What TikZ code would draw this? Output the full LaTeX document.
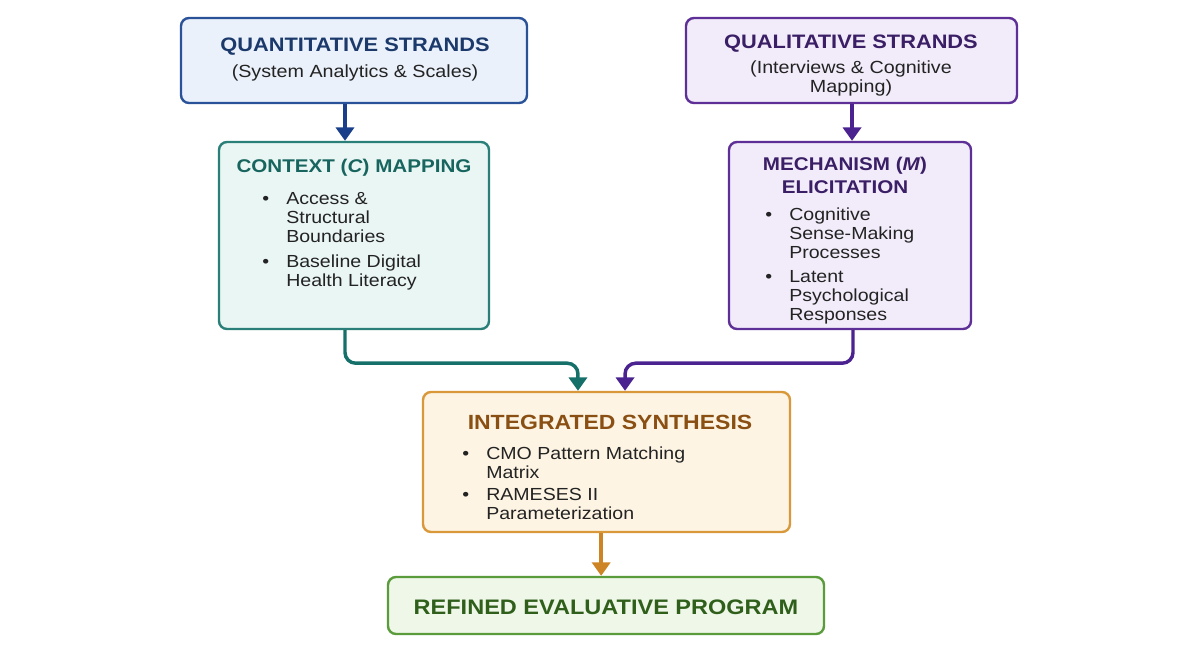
\documentclass[tikz,border=0pt]{standalone}
\usepackage{fontspec}
\setmainfont{Liberation Sans}[FakeStretch=1.12]
\usetikzlibrary{arrows.meta}

\definecolor{quantline}{HTML}{2A5298}
\definecolor{quantfill}{HTML}{EAF1FB}
\definecolor{quanttext}{HTML}{1B3A6B}
\definecolor{quantarrow}{HTML}{1A3F8A}
\definecolor{qualline}{HTML}{5E2F96}
\definecolor{qualfill}{HTML}{F2ECFA}
\definecolor{qualtext}{HTML}{3B1F66}
\definecolor{qualarrow}{HTML}{4B2390}
\definecolor{ctxline}{HTML}{2A7F78}
\definecolor{ctxfill}{HTML}{EAF6F4}
\definecolor{ctxtext}{HTML}{17655E}
\definecolor{ctxarrow}{HTML}{16706A}
\definecolor{synline}{HTML}{D9993A}
\definecolor{synfill}{HTML}{FDF4E4}
\definecolor{syntext}{HTML}{8A4F12}
\definecolor{synarrow}{HTML}{CC8425}
\definecolor{progline}{HTML}{5A9B3C}
\definecolor{progfill}{HTML}{EFF8E8}
\definecolor{progtext}{HTML}{2F5F1B}
\definecolor{bodytext}{HTML}{232323}

\newcommand{\bul}{\makebox[18pt][l]{\textbullet}}
\newcommand{\blist}[1]{\begin{tabular}[t]{@{}l@{}l@{}}#1\end{tabular}}

\tikzset{
  box/.style={draw, rounded corners=6pt, line width=1.8pt, inner sep=0pt},
  bigtitle/.style={font=\fontsize{14.6}{17}\selectfont\bfseries, inner sep=0pt},
  midtitle/.style={font=\fontsize{13.8}{17.25}\selectfont\bfseries, inner sep=0pt, align=center},
  subtitle/.style={font=\fontsize{13.2}{14.25}\selectfont, text=bodytext, inner sep=0pt, align=center},
  items/.style={font=\fontsize{13.1}{14.25}\selectfont, text=bodytext, inner sep=0pt, anchor=base west},
  flow/.style={line width=2.6pt, rounded corners=8pt, -{Triangle[width=13.5pt,length=10pt]}}
}

\begin{document}
\begin{tikzpicture}[x=0.75pt, y=-0.75pt]
\useasboundingbox (0,0) rectangle (1201,651);

% boxes
\node[box, draw=quantline, fill=quantfill, minimum width=259.5pt, minimum height=63.75pt] (quant) at (354,60.5) {};
\node[box, draw=qualline, fill=qualfill, minimum width=248.25pt, minimum height=63.75pt] (qual) at (851.5,60.5) {};
\node[box, draw=ctxline, fill=ctxfill, minimum width=202.5pt, minimum height=140.25pt] (ctx) at (354,235.5) {};
\node[box, draw=qualline, fill=qualfill, minimum width=181.5pt, minimum height=140.25pt] (mech) at (850,235.5) {};
\node[box, draw=synline, fill=synfill, minimum width=275.25pt, minimum height=105pt] (synth) at (606.5,462) {};
\node[box, draw=progline, fill=progfill, minimum width=327pt, minimum height=42.75pt] (prog) at (606,605.5) {};

% texts
\node[bigtitle, text=quanttext] (quanthead) at (355,46.5) {QUANTITATIVE STRANDS};
\node[subtitle] (quantsub) at (355,73) {(System Analytics \& Scales)};
\node[bigtitle, text=qualtext] (qualhead) at (851,43.5) {QUALITATIVE STRANDS};
\node[subtitle] (qualsub) at (851,78) {(Interviews \& Cognitive\\Mapping)};

\node[midtitle, text=ctxtext] (ctxhead) at (354,167.5) {CONTEXT (\textit{C}) MAPPING};
\node[items] (ctxlist) at (262,204) {\blist{\bul & Access \& \\ & Structural \\ & Boundaries \\[4.5pt]
  \bul & Baseline Digital \\ & Health Literacy}};

\node[midtitle, text=qualtext] (mechhead) at (845,175.5) {MECHANISM (\textit{M})\\ELICITATION};
\node[items] (mechlist) at (765,220) {\blist{\bul & Cognitive \\ & Sense-Making \\ & Processes \\[3.75pt]
  \bul & Latent \\ & Psychological \\ & Responses}};

\node[bigtitle, font=\fontsize{15.4}{18}\selectfont\bfseries, text=syntext] (synthhead) at (610,422) {INTEGRATED SYNTHESIS};
\node[items] (synthlist) at (462,459) {\blist{\bul & CMO Pattern Matching \\ & Matrix \\[2.5pt]
  \bul & RAMESES II \\ & Parameterization}};

\node[bigtitle, font=\fontsize{15.75}{18}\selectfont\bfseries, text=progtext] (proghead) at (606,607) {REFINED EVALUATIVE PROGRAM};

% connectors
\draw[flow, draw=quantarrow, fill=quantarrow] ([xshift=-6.75pt]quant.south) -- ([xshift=-6.75pt]quant.south |- ctx.north);
\draw[flow, draw=qualarrow, fill=qualarrow] ([xshift=0.4pt]qual.south) -- ([xshift=0.4pt]qual.south |- mech.north);
\draw[flow, draw=ctxarrow] ([xshift=-6.75pt]ctx.south) -- ++(0,33) -| ([xshift=-21.4pt]synth.north);
\draw[flow, draw=qualarrow] ([xshift=2.25pt]mech.south) -- ++(0,33) -| ([xshift=13.9pt]synth.north);
\draw[flow, draw=synarrow] ([xshift=-4pt]synth.south) -- ([xshift=-4pt]synth.south |- prog.north);
\end{tikzpicture}
\end{document}
